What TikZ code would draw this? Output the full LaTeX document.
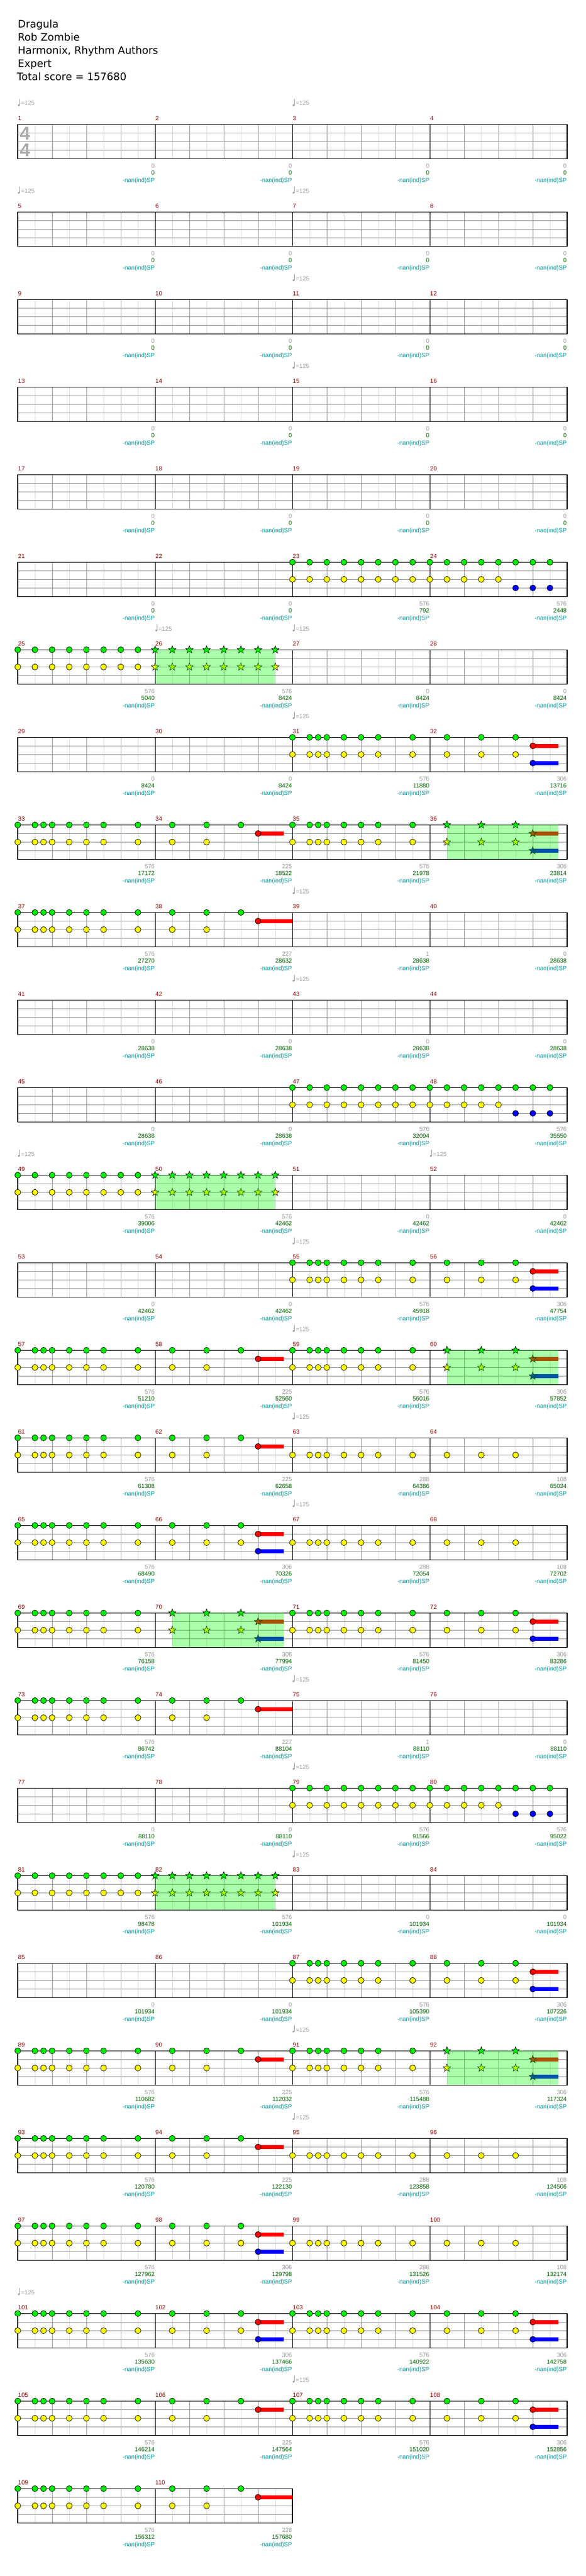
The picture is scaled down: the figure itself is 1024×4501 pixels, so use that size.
\documentclass[tikz,border=0pt]{standalone}
\usepackage{fontspec}
\setmainfont{Liberation Sans}
\newfontfamily\titlefont{DejaVu Sans}
\usepackage{tikz}
\usetikzlibrary{positioning}
\usepackage{xcolor}
\definecolor{mbred}{RGB}{139,0,0}
\definecolor{tempogray}{RGB}{160,160,160}
\definecolor{numgray}{RGB}{153,153,153}
\definecolor{scoregreen}{RGB}{0,100,0}
\definecolor{spteal}{RGB}{0,153,153}
\definecolor{beatgray}{RGB}{150,150,150}
\definecolor{eighthgray}{RGB}{221,221,221}
\definecolor{sigray}{RGB}{170,170,170}
\definecolor{gemgreen}{RGB}{0,238,0}
\definecolor{gemyellow}{RGB}{255,255,0}
\definecolor{gemred}{RGB}{255,0,0}
\definecolor{gemblue}{RGB}{0,0,255}
\definecolor{spgreen}{RGB}{0,255,0}
\tikzstyle{smalltxt} = [font=\fontsize{10.5}{12}\selectfont, inner sep=0pt]
\tikzstyle{titletxt} = [font=\titlefont\fontsize{18}{22}\selectfont, anchor=base west, inner sep=0pt]
\tikzstyle{barno} = [smalltxt, text=mbred, anchor=base west]
\tikzstyle{grayno} = [smalltxt, text=numgray, anchor=base east]
\tikzstyle{scoreno} = [smalltxt, text=scoregreen, anchor=base east]
\tikzstyle{spno} = [smalltxt, text=spteal, anchor=base east]
\tikzstyle{tempo} = [smalltxt, text=tempogray, anchor=base west]
\tikzstyle{timesig} = [font=\bfseries\fontsize{32.5}{34}\selectfont, text=sigray, anchor=base west, inner sep=0pt]
\tikzstyle{eighthline} = [eighthgray, line width=1pt]
\tikzstyle{beatline} = [beatgray, line width=1pt]
\tikzstyle{barline} = [black, line width=1pt]
\tikzstyle{staffframe} = [black, line width=1.2pt]
\tikzstyle{gem} = [draw=black, line width=0.7pt]
\tikzstyle{spfill} = [fill=spgreen, fill opacity=0.33]

% measure position
\newcommand\setmeasure[1]{%
  \pgfmathtruncatemacro\mrow{(#1-1)/4}%
  \pgfmathtruncatemacro\mcol{#1-1-4*\mrow}%
  \pgfmathsetmacro\mx{31+240*\mcol}%
  \pgfmathsetmacro\mt{217.3+153*\mrow}}
\newcommand\measuregrid[1]{%
  \setmeasure{#1}%
  \foreach \e in {1,3,5,7} {\draw[eighthline] ({\mx+30*\e},\mt) -- ++(0,60);}
  \foreach \e in {2,4,6} {\draw[beatline] ({\mx+30*\e},\mt) -- ++(0,60);}
  \foreach \l in {1,2,3} {\draw[beatline] (\mx,{\mt+15*\l}) -- ++(240,0);}
  \draw[barline] (\mx,\mt) -- ++(0,60);
  \node[barno] (bar#1) at ({\mx+0.5},{\mt-7}) {#1};}
\newcommand\scorelabels[3]{%
  \setmeasure{#1}%
  \pgfmathsetmacro\mr{\mx+239.5}%
  \node[grayno] (gray#1) at (\mr,{\mt+75.8}) {#2};
  \node[scoreno] (score#1) at (\mr,{\mt+88.5}) {#3};
  \node[spno] (sp#1) at (\mr,{\mt+101.2}) {-nan(ind)SP};}
\newcommand\tempomark[1]{%
  \setmeasure{#1}%
  \fill[tempogray] ({\mx+2},{\mt-33.6}) circle (1.9);
  \draw[tempogray, line width=0.7pt] ({\mx+3.7},{\mt-33.6}) -- ({\mx+3.7},{\mt-44});
  \node[tempo] (tempo#1) at ({\mx+5.6},{\mt-33.3}) {=125};}

% gems: eighth, lane, colour
\newcommand\gem[3]{\filldraw[gem, fill=#3] ({\mx+30*#1},{\mt+15*#2}) circle (5.2);}
\newcommand\gstar[3]{\filldraw[gem, fill=#3] ({\mx+30*#1},{\mt+15*#2})
  +(-90:7) -- +(-54:2.9) -- +(-18:7) -- +(18:2.9) -- +(54:7) -- +(90:2.9)
  -- +(126:7) -- +(162:2.9) -- +(198:7) -- +(234:2.9) -- cycle;}
\newcommand\sust[4]{\fill[#4] ({\mx+30*#1},{\mt+15*#3-3.5}) rectangle ({\mx+30*#2},{\mt+15*#3+3.5});}
\newcommand\spzone[2]{\fill[spfill] ({\mx+30*#1},\mt) rectangle ({\mx+30*#2},{\mt+60});}

% patterns
\newcommand\patA{\foreach \e in {0,...,7}{\gem{\e}{0}{gemgreen}\gem{\e}{2}{gemyellow}}}
\newcommand\patB{\foreach \e in {0,...,7}{\gem{\e}{0}{gemgreen}}
  \foreach \e in {0,...,4}{\gem{\e}{2}{gemyellow}}
  \foreach \e in {5,6,7}{\gem{\e}{3}{gemblue}}}
\newcommand\patC{\foreach \e in {0,...,7}{\gstar{\e}{0}{gemgreen}\gstar{\e}{2}{gemyellow}}\spzone{0}{7}}
\newcommand\patD{\foreach \e in {0,1,1.5,2,3,4,5,7}{\gem{\e}{0}{gemgreen}\gem{\e}{2}{gemyellow}}}
\newcommand\patE{\foreach \e in {1,3,5}{\gem{\e}{0}{gemgreen}\gem{\e}{2}{gemyellow}}
  \sust{6}{7.5}{1}{gemred}\sust{6}{7.5}{3}{gemblue}\gem{6}{1}{gemred}\gem{6}{3}{gemblue}}
\newcommand\patF{\foreach \e in {1,3,5}{\gem{\e}{0}{gemgreen}}\foreach \e in {1,3}{\gem{\e}{2}{gemyellow}}
  \sust{6}{7.5}{1}{gemred}\gem{6}{1}{gemred}}
\newcommand\patL{\foreach \e in {1,3,5}{\gem{\e}{0}{gemgreen}}\foreach \e in {1,3}{\gem{\e}{2}{gemyellow}}
  \sust{6}{8}{1}{gemred}\gem{6}{1}{gemred}}
\newcommand\patG{\foreach \e in {1,3,5}{\gstar{\e}{0}{gemgreen}\gstar{\e}{2}{gemyellow}}
  \sust{6}{7.5}{1}{gemred}\sust{6}{7.5}{3}{gemblue}\gstar{6}{1}{gemred}\gstar{6}{3}{gemblue}\spzone{1}{7.5}}
\newcommand\patH{\foreach \e in {0,1,1.5,2,3,4,5,7}{\gem{\e}{2}{gemyellow}}}
\newcommand\patI{\foreach \e in {1,3,5}{\gem{\e}{2}{gemyellow}}}

\begin{document}
\begin{tikzpicture}[x=1pt, y=-1pt]
\useasboundingbox (0,0) rectangle (1024,4501);

% Header
\node[titletxt] (song) at (31,49) {Dragula};
\node[titletxt] (artist) at (31,72) {Rob Zombie};
\node[titletxt] (charter) at (31,95) {Harmonix, Rhythm Authors};
\node[titletxt] (level) at (31,118) {Expert};
\node[titletxt] (total) at (29.5,141) {Total score = 157680};

% Grid
\foreach \n in {1,...,110} {\measuregrid{\n}}
\node[timesig] (sigtop) at (34.5,245) {4};
\node[timesig] (sigbot) at (34.5,274) {4};
\foreach \r in {0,...,26} {\draw[staffframe] (31,{217.3+153*\r}) rectangle ++(960,60);}
\draw[staffframe] (31,4348.3) rectangle ++(480,60);

% Tempo
\foreach \n in {1,3,5,7,11,15,26,27,31,39,43,49,52,55,59,63,67,75,79,83,91,95,101,107} {\tempomark{\n}}

% Scores
\foreach \n in {1,...,22} {\scorelabels{\n}{0}{0}}
\foreach \n in {41,...,46} {\scorelabels{\n}{0}{28638}}
\foreach \n in {51,...,54} {\scorelabels{\n}{0}{42462}}
\foreach \n in {83,...,86} {\scorelabels{\n}{0}{101934}}
\foreach \n/\g/\s in {23/576/792, 24/576/2448, 25/576/5040, 26/576/8424, 27/0/8424, 28/0/8424,
  29/0/8424, 30/0/8424, 31/576/11880, 32/306/13716, 33/576/17172, 34/225/18522,
  35/576/21978, 36/306/23814, 37/576/27270, 38/227/28632, 39/1/28638, 40/0/28638,
  47/576/32094, 48/576/35550, 49/576/39006, 50/576/42462,
  55/576/45918, 56/306/47754, 57/576/51210, 58/225/52560, 59/576/56016, 60/306/57852,
  61/576/61308, 62/225/62658, 63/288/64386, 64/108/65034,
  65/576/68490, 66/306/70326, 67/288/72054, 68/108/72702,
  69/576/76158, 70/306/77994, 71/576/81450, 72/306/83286,
  73/576/86742, 74/227/88104, 75/1/88110, 76/0/88110,
  77/0/88110, 78/0/88110, 79/576/91566, 80/576/95022, 81/576/98478, 82/576/101934,
  87/576/105390, 88/306/107226, 89/576/110682, 90/225/112032, 91/576/115488, 92/306/117324,
  93/576/120780, 94/225/122130, 95/288/123858, 96/108/124506,
  97/576/127962, 98/306/129798, 99/288/131526, 100/108/132174,
  101/576/135630, 102/306/137466, 103/576/140922, 104/306/142758,
  105/576/146214, 106/225/147564, 107/576/151020, 108/306/152856,
  109/576/156312, 110/228/157680} {\scorelabels{\n}{\g}{\s}}

% Notes
\foreach \n/\p in {23/A, 24/B, 25/A, 26/C,
  31/D, 32/E, 33/D, 34/F, 35/D, 36/G, 37/D, 38/L,
  47/A, 48/B, 49/A, 50/C,
  55/D, 56/E, 57/D, 58/F, 59/D, 60/G, 61/D, 62/F, 63/H, 64/I,
  65/D, 66/E, 67/H, 68/I, 69/D, 70/G, 71/D, 72/E, 73/D, 74/L,
  79/A, 80/B, 81/A, 82/C,
  87/D, 88/E, 89/D, 90/F, 91/D, 92/G, 93/D, 94/F, 95/H, 96/I,
  97/D, 98/E, 99/H, 100/I, 101/D, 102/E, 103/D, 104/E,
  105/D, 106/F, 107/D, 108/E, 109/D, 110/L} {\setmeasure{\n}\csname pat\p\endcsname}
\end{tikzpicture}
\end{document}
